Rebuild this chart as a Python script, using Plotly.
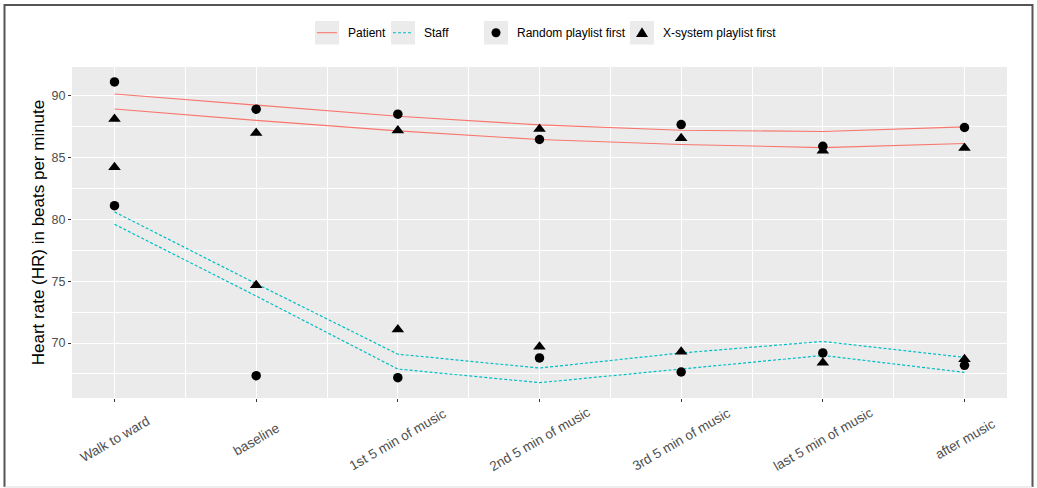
import plotly.graph_objects as go

# ---------------- data ----------------
categories = ["Walk to ward", "baseline", "1st 5 min of music", "2nd 5 min of music",
              "3rd 5 min of music", "last 5 min of music", "after music"]
x_pos = [1, 2, 3, 4, 5, 6, 7]

# point values (group means)
random_patient = [91.1, 88.9, 88.5, 86.45, 87.66, 85.9, 87.42]
random_staff = [81.1, 67.36, 67.2, 68.8, 67.66, 69.2, 68.2]
xsystem_patient = [88.1, 86.97, 87.18, 87.29, 86.56, 85.55, 85.76]
xsystem_staff = [84.2, 74.68, 71.1, 69.7, 69.3, 68.4, 68.7]

# smoothed lines
patient_line_a = [90.13, 89.2, 88.33, 87.63, 87.2, 87.1, 87.47]
patient_line_b = [88.92, 88.0, 87.15, 86.45, 86.05, 85.8, 86.13]
staff_line_a = [80.6, 74.8, 69.1, 67.98, 69.2, 70.13, 68.84]
staff_line_b = [79.6, 73.8, 67.9, 66.8, 67.9, 69.0, 67.63]

y_ticks = [70, 75, 80, 85, 90]

PATIENT_COL = "#F8766D"
STAFF_COL = "#00BFC4"
FONT = "Liberation Sans, Arial, sans-serif"

W, H = 1037, 488
L, R, T, B = 72, 30, 67, 90
PW, PH = W - L - R, H - T - B


def px2x(px):
    return (px - L) / PW


def py2y(py):
    return (H - B - py) / PH


fig = go.Figure()

for ys in (patient_line_a, patient_line_b):
    fig.add_trace(go.Scatter(x=x_pos, y=ys, mode="lines",
                             line=dict(color=PATIENT_COL, width=1.15),
                             showlegend=False, hoverinfo="skip"))
for ys in (staff_line_a, staff_line_b):
    fig.add_trace(go.Scatter(x=x_pos, y=ys, mode="lines",
                             line=dict(color=STAFF_COL, width=1.2, dash="3px,2px"),
                             showlegend=False, hoverinfo="skip"))

for ys in (random_patient, random_staff):
    fig.add_trace(go.Scatter(x=x_pos, y=ys, mode="markers",
                             marker=dict(symbol="circle", size=9.5, color="black"),
                             showlegend=False))
for ys in (xsystem_patient, xsystem_staff):
    fig.add_trace(go.Scatter(x=x_pos, y=ys, mode="markers",
                             marker=dict(symbol="triangle-up", size=11, color="black"),
                             showlegend=False))

shapes = []
annotations = []

# outer frame
fx0, fx1, fy0, fy1 = px2x(4.5), px2x(1032.5), py2y(5), py2y(487)
shapes.append(dict(type="path", xref="paper", yref="paper",
                   path=f"M {fx0},{fy1} L {fx0},{fy0} L {fx1},{fy0} L {fx1},{fy1}",
                   line=dict(color="#555555", width=2)))
shapes.append(dict(type="line", xref="paper", yref="paper",
                   x0=fx0, x1=fx1, y0=fy1, y1=fy1,
                   line=dict(color="#DDDDDD", width=1)))

# manual legend
legend_y = 32.7
keys = [
    (315, "line", PATIENT_COL, "solid", "Patient"),
    (391, "line", STAFF_COL, "3px,2px", "Staff"),
    (484, "circle", "black", None, "Random playlist first"),
    (630, "triangle", "black", None, "X-system playlist first"),
]
for kx, kind, col, dash, label in keys:
    shapes.append(dict(type="rect", xref="paper", yref="paper",
                       x0=px2x(kx), x1=px2x(kx + 24), y0=py2y(21), y1=py2y(44.5),
                       fillcolor="#EBEBEB", line=dict(width=0), layer="above"))
    cx = kx + 12
    if kind == "line":
        shapes.append(dict(type="line", xref="paper", yref="paper",
                           x0=px2x(kx + 2), x1=px2x(kx + 22),
                           y0=py2y(legend_y), y1=py2y(legend_y),
                           line=dict(color=col, width=1.1, dash=dash), layer="above"))
    elif kind == "circle":
        shapes.append(dict(type="circle", xref="paper", yref="paper",
                           x0=px2x(cx - 4.5), x1=px2x(cx + 4.5),
                           y0=py2y(legend_y - 4.5), y1=py2y(legend_y + 4.5),
                           fillcolor="black", line=dict(width=0), layer="above"))
    else:
        p = (f"M {px2x(cx - 6)},{py2y(legend_y + 4.2)} "
             f"L {px2x(cx + 6)},{py2y(legend_y + 4.2)} "
             f"L {px2x(cx)},{py2y(legend_y - 5.5)} Z")
        shapes.append(dict(type="path", xref="paper", yref="paper", path=p,
                           fillcolor="black", line=dict(width=0), layer="above"))
    annotations.append(dict(xref="paper", yref="paper", x=px2x(kx + 31), y=py2y(legend_y),
                            xanchor="left", yanchor="middle", showarrow=False,
                            text=label, font=dict(family=FONT, size=12, color="black")))

# x-axis category labels, rotated about their centre (ggplot angle=30, hjust=0.5)
for xv, lab in zip(x_pos, categories):
    annotations.append(dict(xref="x", yref="paper", x=xv, y=py2y(439),
                            xanchor="center", yanchor="middle", showarrow=False,
                            textangle=-30, text=lab,
                            font=dict(family=FONT, size=13.5, color="#4D4D4D")))

fig.update_layout(
    width=W, height=H,
    margin=dict(l=L, r=R, t=T, b=B, pad=0, autoexpand=False),
    paper_bgcolor="white",
    plot_bgcolor="#EBEBEB",
    font=dict(family=FONT, color="#4D4D4D"),
    showlegend=False,
    shapes=shapes,
    annotations=annotations,
    xaxis=dict(
        range=[0.7, 7.3], tickmode="array", tickvals=x_pos, ticktext=categories,
        showticklabels=False,
        showgrid=True, gridcolor="white", gridwidth=1.1, zeroline=False, showline=False,
        ticks="outside", ticklen=3, tickcolor="#333333", tickwidth=1,
        minor=dict(tickmode="array", tickvals=[1.5, 2.5, 3.5, 4.5, 5.5, 6.5],
                   showgrid=True, gridcolor="white", gridwidth=0.55, ticks=""),
        automargin=False, fixedrange=True,
    ),
    yaxis=dict(
        range=[65.56, 92.31], tickmode="array", tickvals=y_ticks,
        tickfont=dict(size=12.5, color="#4D4D4D", family=FONT),
        showgrid=True, gridcolor="white", gridwidth=1.1, zeroline=False, showline=False,
        ticks="outside", ticklen=3, tickcolor="#333333", tickwidth=1,
        minor=dict(tickmode="array", tickvals=[67.5, 72.5, 77.5, 82.5, 87.5],
                   showgrid=True, gridcolor="white", gridwidth=0.55, ticks=""),
        title=dict(text="Heart rate (HR) in beats per minute",
                   font=dict(size=17, color="black", family=FONT), standoff=2),
        automargin=False, fixedrange=True,
    ),
)

fig.write_html("out.html", config={"displayModeBar": False},
               post_script="document.body.style.margin='0';document.body.style.padding='0';")
